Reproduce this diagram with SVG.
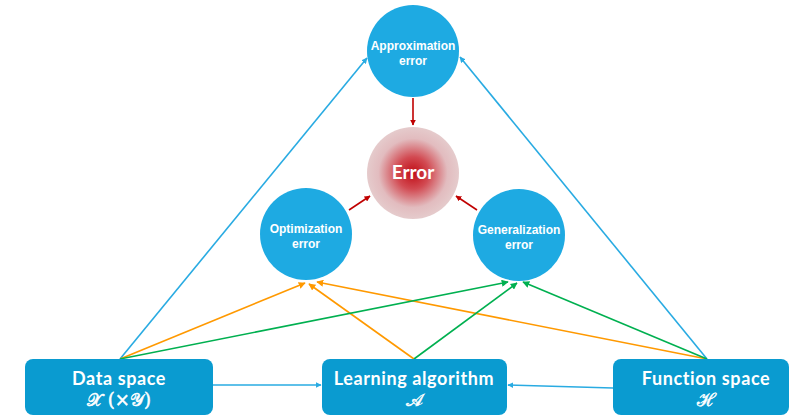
<svg xmlns="http://www.w3.org/2000/svg" width="789" height="417" viewBox="0 0 789 417">
<defs>
<style>
.circ{fill:#1eaae2}
.box{fill:#0a9bd0}
.ct{font-family:"Liberation Sans",Arial,sans-serif;font-weight:bold;font-size:12px;fill:#fff;text-anchor:middle}
.bt{font-family:"Lato","Liberation Sans",sans-serif;font-weight:bold;font-size:18px;letter-spacing:0.6px;fill:#fff;text-anchor:middle}
.mt{font-family:"DejaVu Serif","Liberation Serif",serif;font-size:18px;fill:#fff;stroke:#fff;stroke-width:0.5;text-anchor:middle}
.blue{stroke:#29abe2;stroke-width:1.6;fill:none;marker-end:url(#ab)}
.red{stroke:#c00000;stroke-width:1.6;fill:none;marker-end:url(#ar)}
.or{stroke:#ff9900;stroke-width:1.6;fill:none;marker-end:url(#ao)}
.gr{stroke:#00b050;stroke-width:1.6;fill:none;marker-end:url(#ag)}
</style>
<radialGradient id="eg" cx="0.5" cy="0.5" r="0.5">
<stop offset="0" stop-color="#c00d16"/>
<stop offset="0.35" stop-color="#d24a52"/>
<stop offset="0.75" stop-color="#e2bcbf"/>
<stop offset="1" stop-color="#e5cbcc"/>
</radialGradient>
<marker id="ab" viewBox="0 0 10 10" refX="9" refY="5" markerWidth="6" markerHeight="6" orient="auto" markerUnits="userSpaceOnUse"><path d="M0,0 L10,5 L0,10 z" fill="#29abe2"/></marker>
<marker id="ar" viewBox="0 0 10 10" refX="9" refY="5" markerWidth="6" markerHeight="6" orient="auto" markerUnits="userSpaceOnUse"><path d="M0,0 L10,5 L0,10 z" fill="#c00000"/></marker>
<marker id="ao" viewBox="0 0 10 10" refX="9" refY="5" markerWidth="7" markerHeight="7" orient="auto" markerUnits="userSpaceOnUse"><path d="M0,0 L10,5 L0,10 z" fill="#ff9900"/></marker>
<marker id="ag" viewBox="0 0 10 10" refX="9" refY="5" markerWidth="7" markerHeight="7" orient="auto" markerUnits="userSpaceOnUse"><path d="M0,0 L10,5 L0,10 z" fill="#00b050"/></marker>
</defs>
<rect width="789" height="417" fill="#fff"/>
<g id="connectors">
<line class="blue" x1="120" y1="359" x2="367" y2="58"/>
<line class="blue" x1="707" y1="359" x2="460" y2="57"/>
<line class="blue" x1="213" y1="385" x2="321" y2="385"/>
<line class="blue" x1="613" y1="388" x2="508" y2="385"/>
<line class="red" x1="413" y1="98" x2="413" y2="125"/>
<line class="red" x1="349" y1="210" x2="370" y2="196"/>
<line class="red" x1="477" y1="210" x2="456" y2="196"/>
<line class="or" x1="120" y1="359" x2="305" y2="283"/>
<line class="or" x1="414" y1="359" x2="309" y2="284"/>
<line class="or" x1="707" y1="359" x2="317" y2="282"/>
<line class="gr" x1="120" y1="359" x2="508" y2="282"/>
<line class="gr" x1="414" y1="359" x2="517" y2="283"/>
<line class="gr" x1="707" y1="359" x2="523" y2="282"/>
</g>
<g id="approx">
<circle class="circ" cx="413" cy="51" r="46"/>
<text class="ct" x="413" y="50">Approximation</text>
<text class="ct" x="413" y="65">error</text>
</g>
<g id="error">
<circle cx="413" cy="173" r="46" fill="url(#eg)"/>
<text x="413" y="179" text-anchor="middle" font-family="Lato,'Liberation Sans',sans-serif" font-weight="bold" font-size="19" fill="#fff">Error</text>
</g>
<g id="optim">
<circle class="circ" cx="306" cy="234" r="46"/>
<text class="ct" x="306" y="233">Optimization</text>
<text class="ct" x="306" y="248">error</text>
</g>
<g id="general">
<circle class="circ" cx="519" cy="235" r="46"/>
<text class="ct" x="519" y="234">Generalization</text>
<text class="ct" x="519" y="249">error</text>
</g>
<g id="data">
<rect class="box" x="25" y="359" width="188" height="56" rx="8"/>
<text class="bt" x="119" y="385">Data space</text>
<text class="mt" x="119" y="406">𝒳 (×𝒴)</text>
</g>
<g id="learn">
<rect class="box" x="322" y="359" width="185" height="56" rx="8"/>
<text class="bt" x="414" y="385">Learning algorithm</text>
<text class="mt" x="414" y="406">𝒜</text>
</g>
<g id="func">
<rect class="box" x="613" y="359" width="176" height="56" rx="8"/>
<text class="bt" x="706" y="385">Function space</text>
<text class="mt" x="706" y="406">ℋ</text>
</g>
</svg>
